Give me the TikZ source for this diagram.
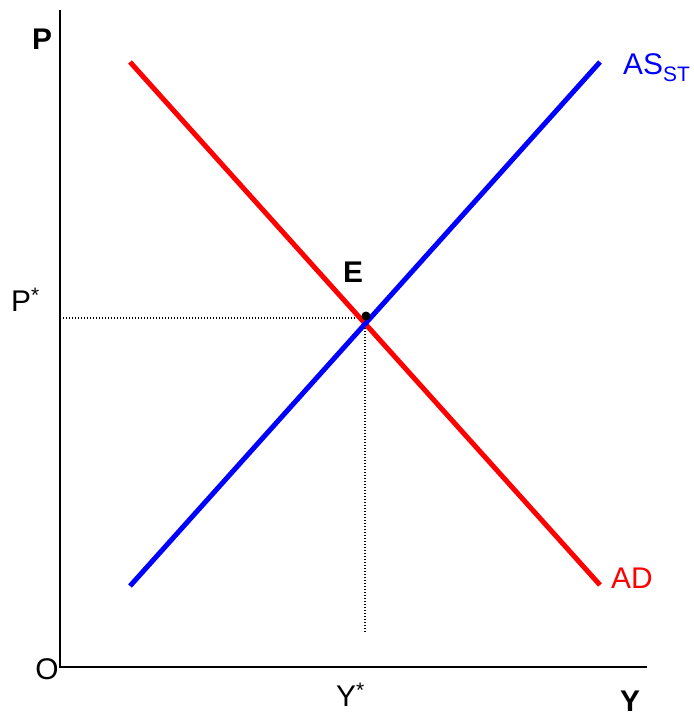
\documentclass[tikz,border=0pt]{standalone}
\usepackage{fontspec}
\setmainfont{Liberation Sans}
\begin{document}
\begin{tikzpicture}[x=1bp,y=-1bp,
  lbl/.style={inner sep=0pt,font=\fontsize{30}{32}\selectfont},
  blbl/.style={inner sep=0pt,font=\fontsize{30}{32}\selectfont\bfseries},
  axis/.style={line width=2bp,black},
  curve/.style={line width=5bp},
  guide/.style={line width=1.3bp,dash pattern=on 1.3bp off 1.7bp}]
\useasboundingbox (0,0) rectangle (694,717);
\coordinate (top) at (60,10);
\coordinate (O) at (60,667);
\coordinate (xend) at (647,667);
\draw[axis] (top) -- (O) -- (xend);
\coordinate (ad1) at (130,62);
\coordinate (ad2) at (600,585);
\coordinate (as1) at (130,586);
\coordinate (as2) at (600,62);
\coordinate (E) at (365,318);
\coordinate (pstar) at (60,318);
\coordinate (ystar) at (365,633);
\draw[guide] (pstar) -- (E) -- (ystar);
\draw[curve,red] (ad1) -- (ad2);
\draw[curve,blue] (as1) -- (as2);
\fill (366,316) circle (4.5bp);
\node[blbl,anchor=base] (Plbl) at (42,50) {P};
\node[lbl,anchor=base west] (Pst) at (11,311) {P\textsuperscript{*}};
\node[blbl,anchor=base] (Elbl) at (353,282) {E};
\node[lbl,anchor=base west,blue] (ASlbl) at (623,75) {AS\textsubscript{ST}};
\node[lbl,anchor=base west,red] (ADlbl) at (611,588) {AD};
\node[lbl,anchor=base] (Olbl) at (47,679) {O};
\node[lbl,anchor=base west] (Ylbl) at (336,706) {Y\textsuperscript{*}};
\node[blbl,anchor=base] (Ybig) at (630,711) {Y};
\end{tikzpicture}
\end{document}
